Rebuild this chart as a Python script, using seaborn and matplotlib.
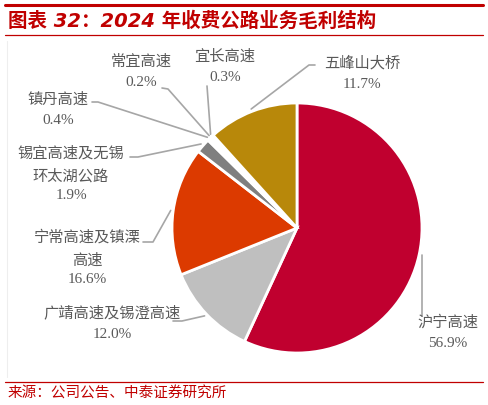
import numpy as np
import matplotlib
matplotlib.use("Agg")
import matplotlib.pyplot as plt
import seaborn as sns

sns.set_theme(style="white")
plt.rcParams['font.family'] = ['Noto Sans CJK SC', 'DejaVu Sans']

# data (clockwise from 12 o'clock)
names = ["沪宁高速", "广靖高速及锡澄高速", "宁常高速及镇溧\n高速", "锡宜高速及无锡\n环太湖公路",
         "镇丹高速", "常宜高速", "宜长高速", "五峰山大桥"]
shares = [56.9, 12.0, 16.6, 1.9, 0.4, 0.2, 0.3, 11.7]
colors = ["#C0002F", "#BFBFBF", "#DC3A00", "#7F7F7F", "#FFFFFF", "#FFFFFF", "#FFFFFF", "#B8880A"]

# label placement in pixels: (text x, text y of first line, leader polyline start points)
label_pos = [(448, 322), (112, 313), (87, 237), (71, 153), (58, 99), (141, 61), (225, 56), (362, 63)]
leader_pts = [
    [(None, 317)],
    [(173, 322), (182, 322)],
    [(143, 243), (153, 243)],
    [(130, 158), (138, 158)],
    [(92, 103), (98, 103)],
    [(162, 89), (168, 90)],
    [(207, 87)],
    [(315, 66), (309, 66)],
]

W, H = 488, 406
fig = plt.figure(figsize=(W / 100, H / 100), dpi=100)

# overlay axes in pixel coordinates
bg = fig.add_axes([0, 0, 1, 1])
bg.set_xlim(0, W)
bg.set_ylim(H, 0)
bg.axis("off")

cx, cy, r = 297, 229, 125
pie_ax = fig.add_axes([(cx - r) / W, (H - cy - r) / H, 2 * r / W, 2 * r / H])
pie_ax.pie(shares, colors=colors, startangle=90, counterclock=False,
           wedgeprops=dict(edgecolor="white", linewidth=2))
pie_ax.set_xlim(-1, 1)
pie_ax.set_ylim(-1, 1)
pie_ax.set_aspect("auto")

# leader lines and labels
cum = np.cumsum([0] + shares)
line_c = "#A6A6A6"
text_c = "#595959"
for i, name in enumerate(names):
    mid = (cum[i] + cum[i + 1]) / 2 / 100 * 360
    ang = np.deg2rad(90 - mid)
    ax_ = cx + 1.02 * r * np.cos(ang)
    ay_ = cy - 1.02 * r * np.sin(ang)
    pts = [(ax_ if p[0] is None else p[0], p[1]) for p in leader_pts[i]] + [(ax_, ay_)]
    xs, ys = zip(*pts)
    bg.plot(xs, ys, color=line_c, lw=1.2, zorder=1)
    tx, ty = label_pos[i]
    lines = name.split("\n")
    for k, ln in enumerate(lines):
        bg.text(tx, ty + k * 23, ln, ha="center", va="center", fontsize=11,
                color=text_c, family=['Noto Sans CJK SC', 'DejaVu Sans'])
    bg.text(tx, ty + len(lines) * 21.5, f"{shares[i]:.1f}%", ha="center", va="center",
            fontsize=11, color=text_c, family=['Liberation Serif', 'Noto Sans CJK SC'])

# header / footer
red = "#C00000"
bg.plot([5, 483], [6, 6], color=red, lw=2.2)
bg.plot([5, 483], [36, 36], color=red, lw=0.9)
bg.plot([5, 483], [383, 383], color=red, lw=0.9)
bg.plot([7, 7], [42, 378], color="#EEEEEE", lw=0.8)
bg.text(8, 21, "图表 32：2024 年收费公路业务毛利结构", ha="left", va="center",
        fontsize=14, fontweight="bold", fontstyle="italic", color=red,
        family=['DejaVu Sans', 'Noto Sans CJK SC'])
bg.text(8, 394, "来源：公司公告、中泰证券研究所", ha="left", va="center",
        fontsize=10.5, color=red)

fig.savefig("out.png", dpi=100)
